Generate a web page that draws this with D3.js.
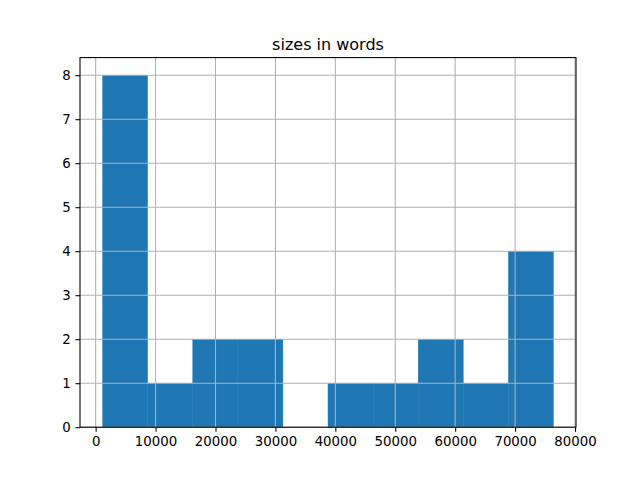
<!DOCTYPE html>
<html><head><meta charset="utf-8">
<script src="https://cdn.jsdelivr.net/npm/d3@7"></script>
<style>body{margin:0;background:#fff}svg{display:block}text{font-family:"DejaVu Sans",sans-serif}</style>
</head><body>
<svg id="c" width="640" height="480"></svg>
<script>
const title = "sizes in words";
const dataMin = 1150;
const dataMax = 76400;
const binCounts = [8, 1, 2, 2, 0, 1, 1, 2, 1, 4];
const xTicks = [0, 10000, 20000, 30000, 40000, 50000, 60000, 70000, 80000];
const yTicks = [0, 1, 2, 3, 4, 5, 6, 7, 8];

const svg = d3.select("#c");
const L = 80, R = 576, T = 57.6, B = 427.2;
const nb = binCounts.length;
const binW = (dataMax - dataMin) / nb;
const bins = binCounts.map((c, i) => ({x0: dataMin + i * binW, x1: dataMin + (i + 1) * binW, c}));
const span = dataMax - dataMin;
const x = d3.scaleLinear().domain([dataMin - span * 0.05, dataMax + span * 0.05]).range([L, R]);
const yMax = d3.max(binCounts) * 1.05;
const y = d3.scaleLinear().domain([0, yMax]).range([B, T]);

// bars
svg.append("g").selectAll("rect").data(bins).join("rect")
  .attr("x", d => x(d.x0)).attr("width", d => x(d.x1) - x(d.x0))
  .attr("y", d => y(d.c)).attr("height", d => y(0) - y(d.c))
  .attr("fill", "#1f77b4").attr("stroke", "#1f77b4").attr("stroke-width", 0.4);

// grid
const g = svg.append("g").attr("stroke", "#b0b0b0").attr("stroke-width", 1.07);
g.selectAll(".gx").data(xTicks).join("line")
  .attr("x1", d => x(d)).attr("x2", d => x(d)).attr("y1", T).attr("y2", B);
g.selectAll(".gy").data(yTicks).join("line")
  .attr("y1", d => y(d)).attr("y2", d => y(d)).attr("x1", L).attr("x2", R);

// axes
const xa = svg.append("g").attr("transform", `translate(0,${B})`)
  .call(d3.axisBottom(x).tickValues(xTicks).tickFormat(d3.format("d")).tickSize(4.67).tickPadding(4.67).tickSizeOuter(0));
const ya = svg.append("g").attr("transform", `translate(${L},0)`)
  .call(d3.axisLeft(y).tickValues(yTicks).tickFormat(d3.format("d")).tickSize(4.67).tickPadding(4.67).tickSizeOuter(0));
[xa, ya].forEach(a => {
  a.select(".domain").remove();
  a.selectAll("line").attr("stroke", "#000").attr("stroke-width", 1.07);
  a.selectAll("text").attr("font-size", "13.33px").attr("fill", "#000").attr("font-family", "DejaVu Sans, sans-serif");
});

// spines
svg.append("rect").attr("x", L).attr("y", T).attr("width", R - L).attr("height", B - T)
  .attr("fill", "none").attr("stroke", "#000").attr("stroke-width", 1.07);

svg.append("text").attr("x", (L + R) / 2).attr("y", 49.6).attr("text-anchor", "middle")
  .attr("font-size", "16px").attr("fill", "#000").text(title);
</script>
</body></html>
